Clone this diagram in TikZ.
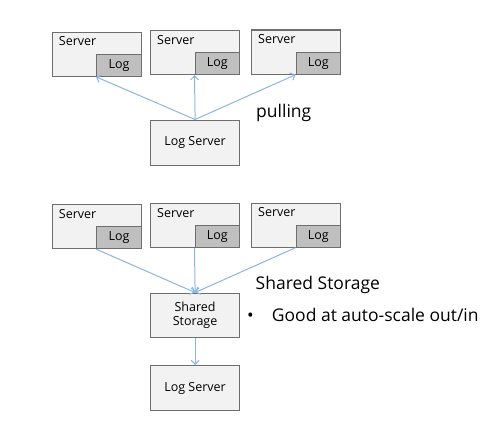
\documentclass[tikz,border=0pt]{standalone}
\usepackage{fontspec}
\setmainfont{Open Sans}
\usetikzlibrary{arrows.meta,positioning}
\definecolor{boxline}{HTML}{6E6E6E}
\definecolor{boxfill}{HTML}{F2F2F2}
\definecolor{logfill}{HTML}{BFBFBF}
\definecolor{flowblue}{HTML}{8CB4E0}

\begin{document}
\begin{tikzpicture}[x=1pt,y=-1pt]
      \tikzstyle{every node}+=[inner sep=0pt, font=\fontsize{12.5}{14}\selectfont]
      \tikzstyle{srvbox}=[draw=boxline, fill=boxfill, line width=1.2pt, minimum width=89pt, minimum height=44pt, anchor=north west,
        label={[anchor=north west, xshift=7pt, yshift=-5pt]north west:Server}]
      \tikzstyle{logbox}=[draw=boxline, fill=logfill, line width=1.2pt, minimum width=44.5pt, minimum height=22pt, anchor=south east]
      \tikzstyle{plainbox}=[draw=boxline, fill=boxfill, line width=1.2pt, minimum width=89pt, minimum height=45pt, anchor=north west, align=center]
      \tikzstyle{flow}=[draw=flowblue, line width=1pt, -{Straight Barb[length=4pt, width=8pt]}]
      \tikzstyle{note}=[anchor=west, font=\fontsize{17.5}{20}\selectfont]
      \useasboundingbox (0,0) rectangle (502,436);
      % pulling
      \node [srvbox] (s1) at (51.7,31.7) {};
      \node [srvbox] (s2) at (150,30) {};
      \node [srvbox] (s3) at (251,29.5) {};
      \node [logbox] (l1) at (s1.south east) {Log};
      \node [logbox] (l2) at (s2.south east) {Log};
      \node [logbox] (l3) at (s3.south east) {Log};
      \node [plainbox] (ls1) at (150,119.5) {Log Server};
      \draw [flow] (ls1.north) -- (l1.south west);
      \draw [flow] (ls1.north) -- (l2.south west);
      \draw [flow] (ls1.north) -- (l3.south west);
      \node [note] (pull) at (256,113) {pulling};
      % shared storage
      \node [srvbox] (t1) at (51.7,204) {};
      \node [srvbox] (t2) at (150,203) {};
      \node [srvbox] (t3) at (251,202.5) {};
      \node [logbox] (k1) at (t1.south east) {Log};
      \node [logbox] (k2) at (t2.south east) {Log};
      \node [logbox] (k3) at (t3.south east) {Log};
      \node [plainbox, minimum height=44pt] (ss) at (150,292.5) {Shared\\Storage};
      \node [plainbox] (ls2) at (150,365) {Log Server};
      \draw [flow] (k1.south west) -- (ss.north);
      \draw [flow] (k2.south west) -- (ss.north);
      \draw [flow] (k3.south west) -- (ss.north);
      \draw [flow] (ss.south) -- (ls2.north);
      \node [note] (shared) at (255.5,285) {Shared Storage};
      \node [note] (good) at (247,315) {\makebox[24.7pt][l]{\textbullet}Good at auto-scale out/in};
    \end{tikzpicture}
\end{document}
